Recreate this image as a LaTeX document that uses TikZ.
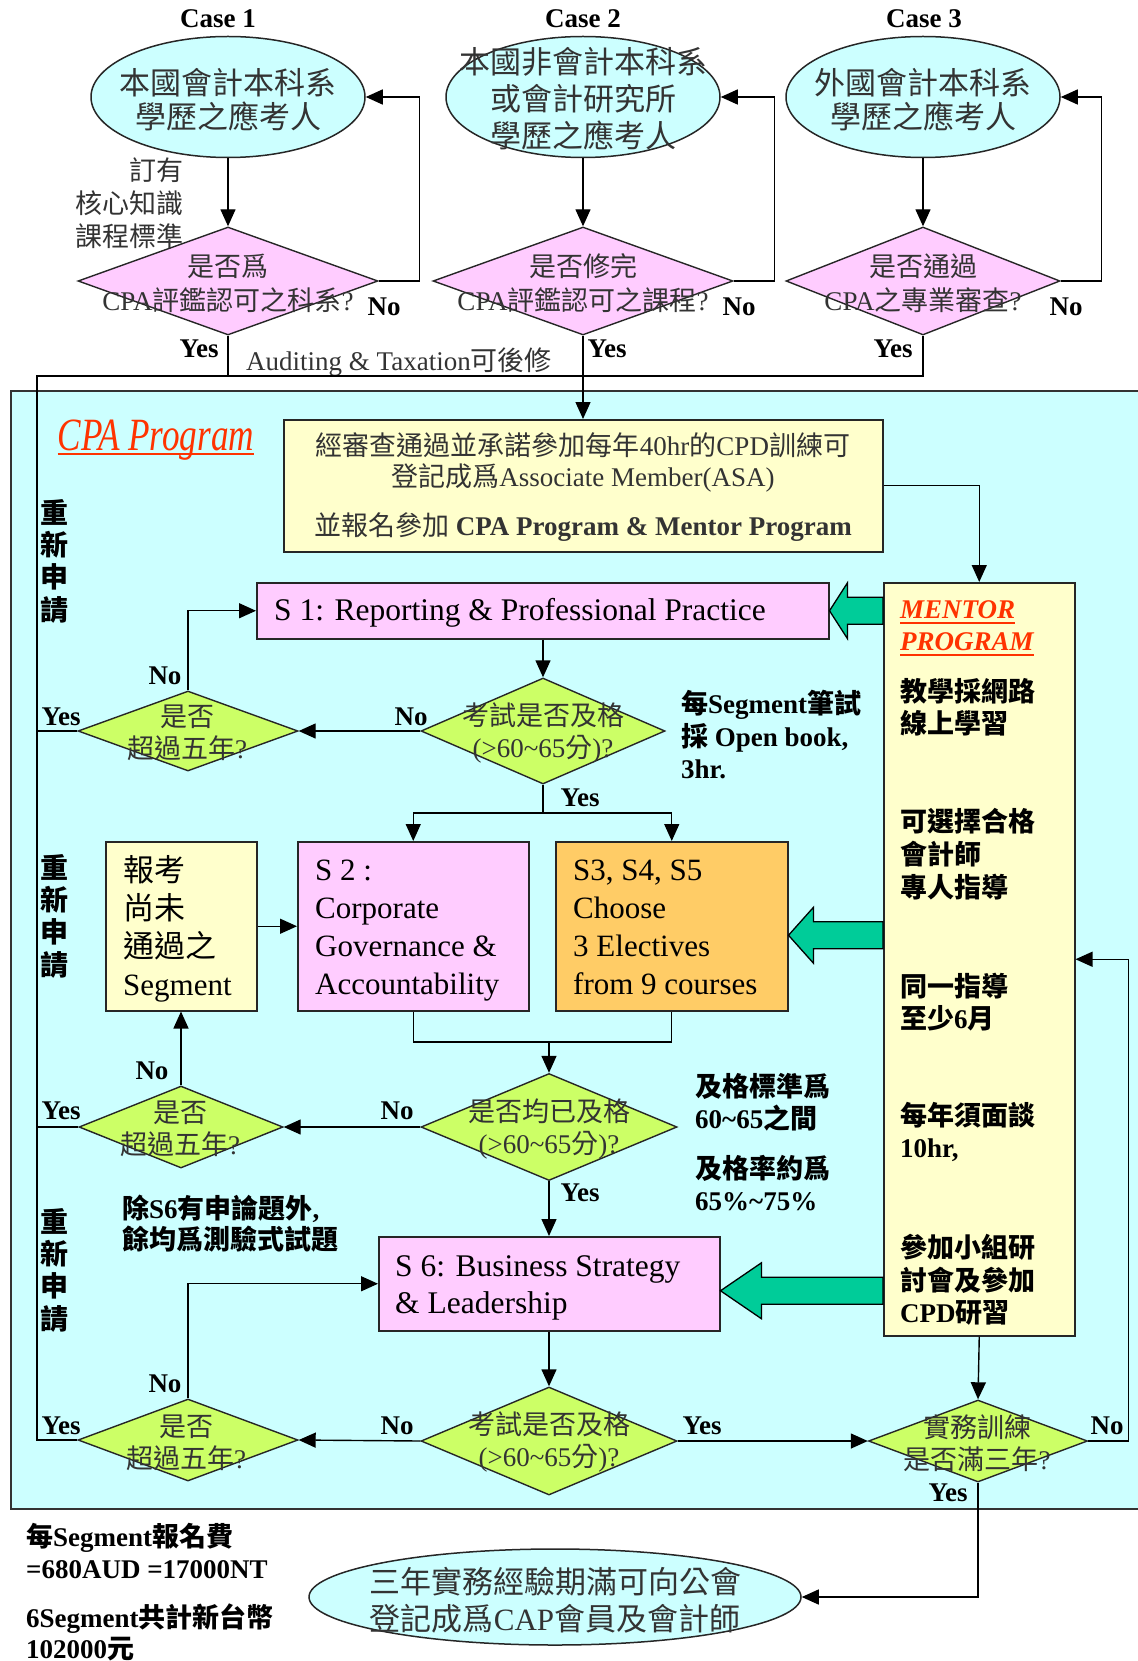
\documentclass[tikz,border=0pt]{standalone}
\usepackage{graphicx}
\usepackage{fontspec}
\setmainfont{Liberation Serif}
\newfontfamily\cjk{Noto Sans CJK TC}
\newcommand\zh[1]{{\cjk #1}}
\newcommand\tld{\char"7E\relax}
\usetikzlibrary{shapes.geometric,arrows.meta,calc}
\definecolor{cyanbg}{HTML}{CCFFFF}
\definecolor{pinkbox}{HTML}{FFCCFF}
\definecolor{yelbox}{HTML}{FFFFCC}
\definecolor{orabox}{HTML}{FFCC66}
\definecolor{limed}{HTML}{CCFF66}
\definecolor{fatg}{HTML}{00CC99}
\definecolor{redt}{HTML}{FF3300}
\definecolor{txtg}{HTML}{333333}
\tikzset{
  ln/.style={line width=1.4pt},
  arr/.style={ln, -{Triangle[length=17pt,width=15pt]}},
  box/.style={draw=black!85, line width=1.5pt, inner sep=0pt, anchor=north west},
  ell/.style={ellipse, draw=black!85, line width=1.5pt, fill=cyanbg, inner sep=0pt},
  dia/.style={diamond, draw=black!85, line width=1.4pt, inner sep=0pt},
  txt/.style={text=txtg, align=center, inner sep=0pt, font=\fontsize{27}{32}\selectfont},
  lab/.style={inner sep=0pt, font=\fontsize{27}{30}\selectfont\bfseries},
  note/.style={inner sep=0pt, align=left, anchor=west, font=\fontsize{27}{32}\selectfont\bfseries},
  btxt/.style={inner sep=0pt, align=left, anchor=west, font=\fontsize{31}{38}\selectfont},
  fat/.style={draw=black, line width=1.3pt, fill=fatg, line join=miter},
  redul/.style={draw=redt, line width=2pt},
}
\newcommand\fatarrow[3]{%
  \path ($(#1)+(0,#3)$) coordinate (tip);
  \path (tip -| mentor.west) coordinate (tail);
  \draw[fat] (tip) -- ($(tip)+(#2,-28)$) -- ($(tip)+(#2,-13.5)$) -- ($(tail)+(0,-13.5)$)
    -- ($(tail)+(0,13.5)$) -- ($(tip)+(#2,13.5)$) -- ($(tip)+(#2,28)$) -- cycle;
}
\begin{document}
\begin{tikzpicture}[x=1pt,y=-1pt]
\useasboundingbox (0,0) rectangle (1137,1661);

% program background
\node[box, draw=black!80, fill=cyanbg, minimum width=1140pt, minimum height=1118pt] (prog) at (10,390) {};

% ---------- top: cases ----------
\node[lab] (c1) at (218,19) {Case 1};
\node[lab] (c2) at (583,19) {Case 2};
\node[lab] (c3) at (924,19) {Case 3};

\node[ell, minimum width=274pt, minimum height=121pt] (e1) at (228,97) {};
\node[ell, minimum width=274pt, minimum height=121pt] (e2) at (583,97) {};
\node[ell, minimum width=274pt, minimum height=121pt] (e3) at (923,97) {};

\node[txt, font=\fontsize{31}{34}\selectfont] (e1t) at (228,100) {\zh{本國會計本科系}\\\zh{學歷之應考人}};
\node[txt, font=\fontsize{31}{37}\selectfont] (e2t) at (583,99) {\zh{本國非會計本科系}\\\zh{或會計研究所}\\\zh{學歷之應考人}};
\node[txt, font=\fontsize{31}{34}\selectfont] (e3t) at (923,100) {\zh{外國會計本科系}\\\zh{學歷之應考人}};

\node[dia, fill=pinkbox, minimum width=300pt, minimum height=108pt] (d1) at (228,281) {};
\node[dia, fill=pinkbox, minimum width=300pt, minimum height=108pt] (d2) at (583,281) {};
\node[dia, fill=pinkbox, minimum width=274pt, minimum height=108pt] (d3) at (923,281) {};

\node[txt, font=\fontsize{27}{34}\selectfont] (d1t) at (228,283) {\zh{是否爲}\\CPA\zh{評鑑認可之科系}?};
\node[txt, font=\fontsize{27}{34}\selectfont] (d2t) at (583,283) {\zh{是否修完}\\CPA\zh{評鑑認可之課程}?};
\node[txt, font=\fontsize{27}{34}\selectfont] (d3t) at (923,283) {\zh{是否通過}\\CPA\zh{之專業審查}?};

\node[txt, align=right, anchor=east, font=\fontsize{27}{33}\selectfont] (core) at (184,203) {\zh{訂有}\\\zh{核心知識}\\\zh{課程標準}};

\draw[arr] (e1.south) -- (d1.north);
\draw[arr] (e2.south) -- (d2.north);
\draw[arr] (e3.south) -- (d3.north);
\draw[arr] (d1.east) -- ++(41,0) |- (e1.east);
\draw[arr] (d2.east) -- ++(41,0) |- (e2.east);
\draw[arr] (d3.east) -- ++(41,0) |- (e3.east);

\node[lab] (no1) at (384,307) {No};
\node[lab] (no2) at (739,307) {No};
\node[lab] (no3) at (1066,307) {No};
\node[lab] (ye1) at (199,349) {Yes};
\node[lab] (ye2) at (607,349) {Yes};
\node[lab] (ye3) at (893,349) {Yes};

\node[inner sep=0pt, anchor=west, text=txtg, font=\fontsize{27}{30}\selectfont] (aud) at (246,362) {Auditing \& Taxation\zh{可後修}};

% ---------- program ----------
\node[inner sep=0pt, anchor=base, text=redt] (cpap) at (156,450) {\scalebox{0.8}[1.05]{\fontsize{44}{48}\selectfont\itshape CPA Program}};
\draw[redul] ([yshift=-4pt]cpap.base west) -- ([yshift=-4pt]cpap.base east);

\node[box, fill=yelbox, minimum width=599pt, minimum height=132pt] (asa) at (283,419) {};
\node[txt, font=\fontsize{27}{30}\selectfont] (asa1) at (583,445) {\zh{經審查通過並承諾參加每年}40hr\zh{的}CPD\zh{訓練可}};
\node[txt, font=\fontsize{27}{30}\selectfont] (asa2) at (583,478) {\zh{登記成爲}Associate Member(ASA)};
\node[txt, font=\fontsize{27}{30}\selectfont] (asa3) at (583,527) {\zh{並報名參加} \textbf{CPA Program \& Mentor Program}};

\node[box, fill=yelbox, minimum width=191pt, minimum height=753pt] (mentor) at (883,582) {};
\node[box, fill=pinkbox, minimum width=572pt, minimum height=56pt] (s1) at (256,582) {};
\node[box, fill=yelbox, minimum width=151pt, minimum height=169pt] (bk) at (105,841) {};
\node[box, fill=pinkbox, minimum width=231pt, minimum height=169pt] (s2) at (297,841) {};
\node[box, fill=orabox, minimum width=232pt, minimum height=169pt] (s3) at (555,841) {};
\node[box, fill=pinkbox, minimum width=341pt, minimum height=94pt] (s6) at (378,1236) {};

\node[dia, fill=limed, minimum width=244pt, minimum height=106pt] (dA) at (543,731) {};
\node[dia, fill=limed, minimum width=220pt, minimum height=80pt] (dB) at (188,731) {};
\node[dia, fill=limed, minimum width=256pt, minimum height=107pt] (dC) at (549,1127) {};
\node[dia, fill=limed, minimum width=204pt, minimum height=82pt] (dD) at (181,1127) {};
\node[dia, fill=limed, minimum width=256pt, minimum height=108pt] (dE) at (549,1441) {};
\node[dia, fill=limed, minimum width=220pt, minimum height=82pt] (dF) at (188,1440) {};
\node[dia, fill=limed, minimum width=219pt, minimum height=82pt] (dG) at (978,1441) {};

\node[ell, minimum width=492pt, minimum height=96pt] (fin) at (555,1597) {};

% fat arrows
\fatarrow{s1.east}{18}{0}
\fatarrow{s3.east}{25}{9}
\fatarrow{s6.east}{41}{7}

% connectors
\coordinate (jl) at (37,376);
\draw[ln] (d1.south) -- (d1.south |- jl);
\draw[ln] (dF.west) -| (jl) -| (d3.south);
\draw[ln] (dB.west) -- (dB.west -| jl);
\draw[ln] (dD.west) -- (dD.west -| jl);
\draw[arr] (d2.south) -- (d2.south |- asa.north);
\draw[arr] (asa.east) -| (mentor.north);

\draw[arr] (s1.south -| dA.north) -- (dA.north);
\draw[arr] (dA.west) -- (dB.east);
\draw[arr] (dB.north) |- (s1.west);
\coordinate (splitA) at (543,813);
\draw[ln] (dA.south) -- (splitA);
\draw[arr] (splitA) -| (s2.north);
\draw[arr] (splitA) -| (s3.north);
\draw[arr] (bk.east) -- (s2.west);
\coordinate (mergeC) at (549,1042);
\draw[ln] (s2.south) |- (mergeC) -| (s3.south);
\draw[arr] (mergeC) -- (dC.north);
\draw[arr] (dC.west) -- (dD.east);
\draw[arr] (dD.north) -- (dD.north |- bk.south);
\draw[arr] (dC.south) -- (dC.south |- s6.north);
\draw[arr] (s6.south -| dE.north) -- (dE.north);
\draw[arr] (dE.west) -- (dF.east);
\draw[arr] (dF.north) |- (s6.west);
\draw[arr] (dE.east) -- (dG.west);
\draw[arr] (mentor.south) -- (dG.north);
\draw[arr] (dG.east) -- ++(40,0) |- (mentor.east);
\draw[arr] (dG.south) |- (fin.east);

% box texts
\node[btxt, font=\fontsize{31.5}{37}\selectfont] (s1t) at (274,613) {S 1: Reporting \& Professional Practice};
\node[btxt] (bkt) at (123,929) {\zh{報考}\\\zh{尚未}\\\zh{通過之}\\Segment};
\node[btxt] (s2t) at (315,931) {S 2 :\\Corporate\\Governance \&\\Accountability};
\node[btxt] (s3t) at (573,927) {S3, S4, S5\\Choose\\3 Electives\\from 9 courses};
\node[btxt, font=\fontsize{31.5}{37}\selectfont] (s6t) at (395,1288) {S 6: Business Strategy\\\& Leadership};

% diamond texts
\node[txt] (dAt) at (543,733) {\zh{考試是否及格}\\(>60\tld65\zh{分})?};
\node[txt] (dBt) at (187,733) {\zh{是否}\\\zh{超過五年}?};
\node[txt] (dCt) at (549,1129) {\zh{是否均已及格}\\(>60\tld65\zh{分})?};
\node[txt] (dDt) at (180,1129) {\zh{是否}\\\zh{超過五年}?};
\node[txt] (dEt) at (549,1442) {\zh{考試是否及格}\\(>60\tld65\zh{分})?};
\node[txt] (dFt) at (186,1443) {\zh{是否}\\\zh{超過五年}?};
\node[txt] (dGt) at (977,1443) {\zh{實務訓練}\\\zh{是否滿三年}?};
\node[txt, font=\fontsize{31}{37}\selectfont] (fint) at (555,1600) {\zh{三年實務經驗期滿可向公會}\\\zh{登記成爲}CAP\zh{會員及會計師}};

% labels
\node[lab] (lBn) at (165,676) {No};
\node[lab] (lBy) at (61,717) {Yes};
\node[lab] (lAn) at (411,717) {No};
\node[lab] (lAy) at (580,798) {Yes};
\node[lab] (lDn) at (152,1071) {No};
\node[lab] (lDy) at (61,1111) {Yes};
\node[lab] (lCn) at (397,1111) {No};
\node[lab] (lCy) at (580,1193) {Yes};
\node[lab] (lFn) at (165,1384) {No};
\node[lab] (lFy) at (61,1426) {Yes};
\node[lab] (lEn) at (397,1426) {No};
\node[lab] (lEy) at (702,1426) {Yes};
\node[lab] (lGn) at (1107,1426) {No};
\node[lab] (lGy) at (948,1493) {Yes};

% 重新申請
\node[inner sep=0pt, align=center, font=\fontsize{28}{32.3}\selectfont\bfseries] (rs1) at (54,561) {\zh{重}\\\zh{新}\\\zh{申}\\\zh{請}};
\node[inner sep=0pt, align=center, font=\fontsize{28}{32.3}\selectfont\bfseries] (rs2) at (54,916) {\zh{重}\\\zh{新}\\\zh{申}\\\zh{請}};
\node[inner sep=0pt, align=center, font=\fontsize{28}{32.3}\selectfont\bfseries] (rs3) at (54,1270) {\zh{重}\\\zh{新}\\\zh{申}\\\zh{請}};

% notes
\node[note, font=\fontsize{27}{32.5}\selectfont\bfseries] (n1) at (681,735) {\zh{每}Segment\zh{筆試}\\\zh{採} Open book,\\3hr.};
\node[note] (n2) at (695,1102) {\zh{及格標準爲}\\60\tld65\zh{之間}};
\node[note] (n3) at (695,1183) {\zh{及格率約爲}\\65\%\tld75\%};
\node[note, font=\fontsize{27}{31}\selectfont\bfseries] (n4) at (122,1224) {\zh{除}S6\zh{有申論題外},\\\zh{餘均爲測驗式試題}};
\node[note] (n5) at (26,1551) {\zh{每}Segment\zh{報名費}\\=680AUD =17000NT};
\node[note, font=\fontsize{27}{31}\selectfont\bfseries] (n6) at (26,1632) {6Segment\zh{共計新台幣}\\102000\zh{元}};

% mentor texts
\node[inner sep=0pt, anchor=base west, text=redt, font=\fontsize{27}{32}\selectfont\bfseries\itshape] (m0a) at (900,618) {MENTOR};
\draw[redul] ([yshift=-5pt]m0a.base west) -- ([yshift=-5pt]m0a.base east);
\node[inner sep=0pt, anchor=base west, text=redt, font=\fontsize{27}{32}\selectfont\bfseries\itshape] (m0b) at (900,650) {PROGRAM};
\draw[redul] ([yshift=-5pt]m0b.base west) -- ([yshift=-5pt]m0b.base east);
\node[note] (m1) at (900,707) {\zh{教學採網路}\\\zh{線上學習}};
\node[note, font=\fontsize{27}{33}\selectfont\bfseries] (m2) at (900,854) {\zh{可選擇合格}\\\zh{會計師}\\\zh{專人指導}};
\node[note] (m3) at (900,1002) {\zh{同一指導}\\\zh{至少}6\zh{月}};
\node[note] (m4) at (900,1132) {\zh{每年須面談}\\10hr,};
\node[note, font=\fontsize{27}{32.5}\selectfont\bfseries] (m5) at (900,1280) {\zh{參加小組研}\\\zh{討會及參加}\\CPD\zh{研習}};
\end{tikzpicture}
\end{document}
